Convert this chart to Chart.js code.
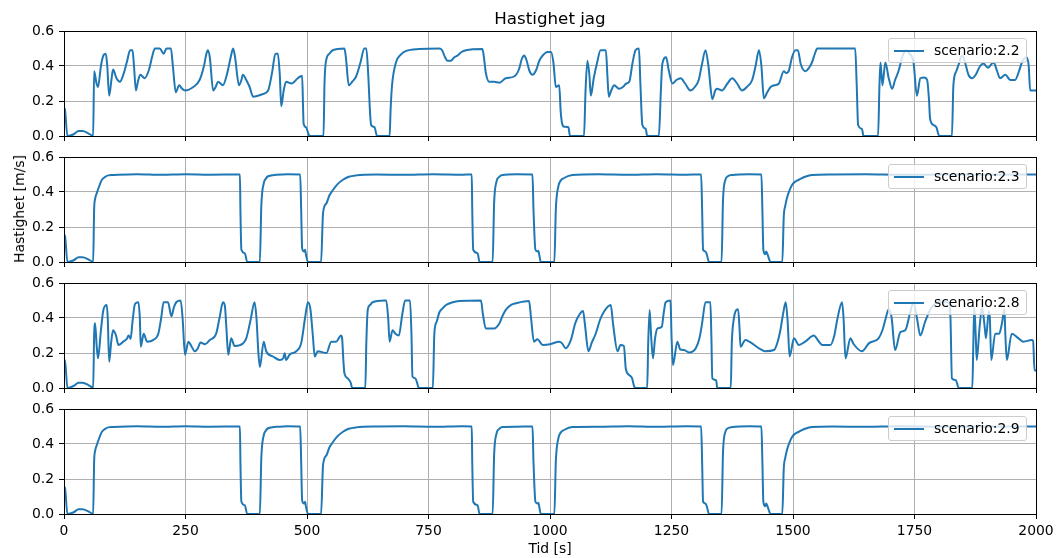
<!DOCTYPE html>
<html>
<head>
<meta charset="utf-8">
<title>Hastighet jag</title>
<script src="https://cdn.jsdelivr.net/npm/chart.js@4.4.1/dist/chart.umd.min.js"></script>
<style>
  body { margin: 0; background: #fff; }
  #fig { position: relative; width: 1057px; height: 558px; overflow: hidden; font-family: "DejaVu Sans", sans-serif; color: #000; }
  .panel { position: absolute; left: 0; }
  .txt { position: absolute; white-space: nowrap; transform: translate(-50%, -50%); }
  #title { left: 550px; top: 18px; font-size: 16.7px; }
  #ylabel { left: 19px; top: 209px; font-size: 13.9px; transform: translate(-50%, -50%) rotate(-90deg); }
  #xlabel { left: 550px; top: 548px; font-size: 13.9px; }
  .legend { position: absolute; left: 888px; width: 139px; height: 25px; box-sizing: border-box;
            border: 1px solid #cccccc; border-radius: 3px; background: rgba(255, 255, 255, 0.8); font-size: 13.9px; }
  .legend .swatch { position: absolute; left: 5px; top: 11px; width: 30px; height: 2px; background: #1f77b4; }
  .legend .name { position: absolute; left: 45px; top: 3px; line-height: 17px; }
</style>
</head>
<body>
<div id="fig">
  <div id="title" class="txt">Hastighet jag</div>
  <div id="ylabel" class="txt">Hastighet [m/s]</div>
  <div id="xlabel" class="txt">Tid [s]</div>
</div>
<script>
// scenario names, one subplot each
var scenarios = ["scenario:2.2", "scenario:2.3", "scenario:2.8", "scenario:2.9"];

// axis ticks
var xTicks = [0, 250, 500, 750, 1000, 1250, 1500, 1750, 2000];
var yTicks = [0.0, 0.2, 0.4, 0.6];

// scenario 2.2 : time [s] and speed [m/s]
var t22 = [0, 2, 7, 20, 30, 38, 50, 58, 60, 62, 67, 70, 76, 81, 86, 89, 93, 98, 101, 108, 115, 122, 130, 136, 141, 144, 148, 152, 157, 166, 175, 182, 187, 197, 205, 211, 220, 224, 230, 237, 243, 249, 266, 279, 288, 293, 296, 300, 307, 312, 317, 327, 336, 343, 348, 352, 360, 365, 368, 375, 382, 389, 399, 409, 420, 428, 435, 440, 444, 447, 452, 457, 468, 481, 490, 492, 493, 498, 502, 505,
  534, 536, 540, 546, 553, 577, 580, 586, 593, 601, 610, 618, 622, 626, 630, 632, 639, 644, 670, 672, 675, 683, 693, 704, 731, 772, 778, 784, 789, 796, 803, 810, 818, 827, 861, 864, 868, 875, 885, 896, 909, 926, 936, 942, 947, 952, 958, 964, 972, 978, 985, 995, 1002, 1007, 1012, 1019, 1022, 1025, 1029, 1038, 1041,
  1070, 1073, 1077, 1081, 1084, 1090, 1097, 1104, 1115, 1118, 1121, 1126, 1132, 1137, 1142, 1150, 1157, 1163, 1170, 1176, 1183, 1186, 1190, 1197, 1200, 1224, 1228, 1231, 1239, 1244, 1252, 1260, 1269, 1278, 1289, 1298, 1306, 1312, 1320, 1326, 1334, 1340, 1344, 1354, 1365, 1375, 1385, 1395, 1405, 1416, 1423, 1430, 1435, 1440, 1447, 1454, 1462, 1471, 1481, 1486, 1491, 1498, 1505, 1510, 1516, 1526, 1533, 1539, 1545, 1550, 1628, 1631, 1634, 1642, 1645,
  1675, 1678, 1680, 1684, 1690, 1697, 1704, 1710, 1717, 1726, 1733, 1740, 1748, 1755, 1762, 1770, 1776, 1780, 1782, 1789, 1795, 1801, 1827, 1830, 1836, 1841, 1848, 1854, 1861, 1868, 1876, 1885, 1892, 1897, 1902, 1908, 1913, 1920, 1926, 1937, 1947, 1957, 1965, 1971, 1980, 1985, 1988, 2000];
var v22 = [0.16, 0.15, 0, 0.01, 0.028, 0.028, 0.015, 0.002, 0, 0.37, 0.30, 0.28, 0.40, 0.46, 0.47, 0.40, 0.23, 0.33, 0.38, 0.33, 0.31, 0.35, 0.43, 0.49, 0.49, 0.40, 0.26, 0.31, 0.35, 0.33, 0.38, 0.46, 0.50, 0.50, 0.47, 0.50, 0.50, 0.40, 0.25, 0.29, 0.27, 0.26, 0.28, 0.32, 0.40, 0.47, 0.49, 0.45, 0.26, 0.28, 0.31, 0.29, 0.36, 0.45, 0.50, 0.45, 0.29, 0.32, 0.35, 0.32, 0.28, 0.225, 0.23, 0.24, 0.26, 0.36, 0.47, 0.47, 0.35, 0.17, 0.26, 0.31, 0.30, 0.33, 0.345, 0.15, 0.07, 0.05, 0.02, 0,
  0, 0.30, 0.44, 0.47, 0.49, 0.50, 0.45, 0.29, 0.31, 0.34, 0.42, 0.50, 0.50, 0.35, 0.12, 0.063, 0.05, 0, 0, 0.15, 0.29, 0.42, 0.465, 0.486, 0.497, 0.50, 0.49, 0.45, 0.43, 0.43, 0.45, 0.46, 0.48, 0.49, 0.497, 0.45, 0.36, 0.31, 0.31, 0.305, 0.33, 0.34, 0.38, 0.44, 0.46, 0.43, 0.37, 0.35, 0.38, 0.43, 0.46, 0.48, 0.48, 0.42, 0.28, 0.29, 0.14, 0.07, 0.053, 0.05, 0,
  0, 0.25, 0.43, 0.35, 0.23, 0.33, 0.42, 0.49, 0.49, 0.35, 0.225, 0.26, 0.29, 0.28, 0.27, 0.28, 0.30, 0.31, 0.42, 0.49, 0.50, 0.30, 0.063, 0.04, 0, 0, 0.25, 0.41, 0.45, 0.38, 0.30, 0.32, 0.33, 0.30, 0.26, 0.28, 0.32, 0.40, 0.49, 0.40, 0.21, 0.26, 0.27, 0.26, 0.30, 0.33, 0.30, 0.26, 0.28, 0.32, 0.40, 0.49, 0.40, 0.215, 0.25, 0.28, 0.29, 0.30, 0.37, 0.36, 0.37, 0.45, 0.49, 0.49, 0.41, 0.37, 0.39, 0.42, 0.47, 0.50, 0.50, 0.30, 0.063, 0.04, 0,
  0, 0.30, 0.42, 0.29, 0.42, 0.33, 0.27, 0.32, 0.37, 0.46, 0.49, 0.47, 0.42, 0.23, 0.33, 0.335, 0.32, 0.20, 0.10, 0.063, 0.05, 0, 0, 0.29, 0.37, 0.41, 0.46, 0.42, 0.35, 0.33, 0.35, 0.40, 0.415, 0.40, 0.39, 0.41, 0.42, 0.37, 0.33, 0.35, 0.32, 0.32, 0.37, 0.42, 0.45, 0.40, 0.26, 0.26];

// scenario 2.3
var t23 = [0, 2, 7, 20, 30, 38, 50, 58, 60, 62, 64, 67, 72, 77, 84, 91, 100, 150, 200, 250, 300, 362, 363, 365, 372, 377, 403, 406, 411, 415, 420, 437, 460, 486, 488, 490, 494, 496, 498, 502,
  529, 533, 540, 546, 553, 563, 574, 586, 601, 642, 700, 760, 820, 839, 840, 842, 851, 855, 882, 885, 890, 895, 902, 930, 964, 966, 970, 974, 976, 978, 981,
  1009, 1012, 1017, 1022, 1029, 1046, 1100, 1160, 1220, 1280, 1311, 1313, 1315, 1320, 1323, 1327, 1353, 1356, 1361, 1366, 1375, 1410, 1435, 1437, 1439, 1443, 1445, 1448, 1454,
  1478, 1481, 1484, 1488, 1493, 1498, 1505, 1512, 1525, 1539, 1580, 1650, 1720, 1800, 1900, 2000];
var v23 = [0.155, 0.15, 0, 0.01, 0.027, 0.027, 0.015, 0.002, 0, 0.30, 0.36, 0.39, 0.43, 0.465, 0.485, 0.495, 0.497, 0.502, 0.498, 0.501, 0.499, 0.50, 0.30, 0.07, 0.05, 0, 0, 0.32, 0.45, 0.475, 0.49, 0.498, 0.501, 0.50, 0.30, 0.078, 0.06, 0.07, 0.04, 0,
  0, 0.28, 0.335, 0.38, 0.41, 0.445, 0.47, 0.487, 0.495, 0.50, 0.498, 0.502, 0.499, 0.50, 0.30, 0.07, 0.05, 0, 0, 0.335, 0.46, 0.485, 0.497, 0.501, 0.50, 0.30, 0.07, 0.06, 0.065, 0.04, 0,
  0, 0.30, 0.43, 0.465, 0.48, 0.497, 0.501, 0.498, 0.502, 0.499, 0.50, 0.30, 0.07, 0.06, 0.04, 0, 0, 0.354, 0.47, 0.49, 0.497, 0.501, 0.50, 0.30, 0.07, 0.045, 0.06, 0.04, 0,
  0, 0.26, 0.32, 0.37, 0.41, 0.44, 0.46, 0.47, 0.487, 0.497, 0.50, 0.501, 0.498, 0.50, 0.499, 0.50];

// scenario 2.8
var t28 = [0, 2, 7, 20, 30, 38, 50, 58, 60, 62, 64, 67, 70, 76, 81, 88, 90, 93, 97, 101, 104, 107, 112, 122, 129, 133, 137, 141, 146, 153, 156, 158, 164, 171, 184, 194, 200, 205, 214, 221, 226, 231, 240, 244, 249, 256, 262, 269, 275, 281, 290, 300, 313, 320, 327, 331, 334, 338, 344, 351, 362, 375, 384, 392, 396, 400, 403, 411, 416, 430, 444, 451, 454, 457, 464, 478, 488, 496, 502, 507, 512, 516, 522, 540, 550, 560, 570, 572, 575, 577, 584, 590, 593,
  620, 622, 625, 630, 635, 659, 663, 667, 670, 676, 682, 689, 696, 702, 712, 715, 717, 723, 726, 730, 759, 762, 767, 772, 779, 786, 800, 813, 858, 862, 868, 885, 896, 902, 909, 920, 930, 957, 961, 967, 974, 985, 1000, 1019, 1025, 1032, 1043, 1052, 1060, 1068, 1072, 1079, 1086, 1094, 1103, 1111, 1125, 1130, 1139, 1145, 1152, 1156, 1163, 1169, 1172, 1175,
  1200, 1202, 1205, 1208, 1212, 1216, 1221, 1230, 1234, 1238, 1248, 1250, 1253, 1262, 1268, 1276, 1286, 1300, 1308, 1313, 1320, 1330, 1332, 1334, 1342, 1344, 1372, 1374, 1378, 1387, 1390, 1392, 1402, 1410, 1430, 1443, 1461, 1468, 1474, 1480, 1485, 1489, 1493, 1502, 1512, 1525, 1543, 1552, 1560, 1577, 1585, 1591, 1601, 1604, 1608, 1618, 1625, 1642, 1656, 1676, 1684, 1690, 1697, 1703, 1710, 1721, 1731, 1741, 1748, 1755, 1762, 1772, 1785, 1800, 1820, 1824, 1827, 1835, 1841,
  1869, 1871, 1873, 1876, 1878, 1884, 1889, 1894, 1897, 1903, 1905, 1908, 1916, 1924, 1930, 1935, 1937, 1940, 1950, 1964, 1974, 1991, 1994, 1997, 2000];
var v28 = [0.16, 0.16, 0, 0.012, 0.03, 0.03, 0.017, 0.003, 0, 0.30, 0.37, 0.25, 0.17, 0.33, 0.446, 0.474, 0.40, 0.15, 0.26, 0.33, 0.32, 0.30, 0.246, 0.265, 0.28, 0.30, 0.28, 0.38, 0.48, 0.49, 0.40, 0.236, 0.31, 0.265, 0.275, 0.31, 0.40, 0.49, 0.49, 0.41, 0.46, 0.49, 0.50, 0.40, 0.19, 0.265, 0.24, 0.21, 0.225, 0.26, 0.25, 0.274, 0.31, 0.40, 0.49, 0.47, 0.35, 0.19, 0.284, 0.24, 0.245, 0.284, 0.39, 0.49, 0.40, 0.20, 0.12, 0.265, 0.21, 0.18, 0.16, 0.17, 0.198, 0.16, 0.19, 0.21, 0.255, 0.40, 0.49, 0.45, 0.30, 0.18, 0.21, 0.20, 0.265, 0.265, 0.30, 0.29, 0.15, 0.084, 0.055, 0.03, 0,
  0, 0.25, 0.446, 0.475, 0.49, 0.50, 0.50, 0.40, 0.265, 0.33, 0.31, 0.30, 0.42, 0.50, 0.50, 0.30, 0.065, 0.055, 0.035, 0, 0, 0.31, 0.38, 0.43, 0.455, 0.474, 0.49, 0.497, 0.50, 0.42, 0.34, 0.34, 0.37, 0.41, 0.446, 0.475, 0.484, 0.497, 0.40, 0.265, 0.278, 0.246, 0.25, 0.265, 0.255, 0.227, 0.275, 0.37, 0.417, 0.44, 0.36, 0.21, 0.26, 0.31, 0.39, 0.436, 0.474, 0.36, 0.21, 0.246, 0.24, 0.11, 0.074, 0.055, 0.02, 0,
  0, 0.25, 0.446, 0.30, 0.17, 0.28, 0.34, 0.35, 0.43, 0.49, 0.50, 0.30, 0.13, 0.265, 0.22, 0.217, 0.203, 0.227, 0.29, 0.37, 0.49, 0.49, 0.30, 0.055, 0.045, 0, 0, 0.25, 0.39, 0.45, 0.34, 0.236, 0.274, 0.265, 0.227, 0.21, 0.217, 0.26, 0.33, 0.43, 0.49, 0.38, 0.18, 0.284, 0.246, 0.265, 0.30, 0.27, 0.246, 0.246, 0.30, 0.39, 0.49, 0.40, 0.17, 0.284, 0.25, 0.21, 0.255, 0.284, 0.33, 0.39, 0.45, 0.40, 0.217, 0.32, 0.33, 0.43, 0.49, 0.40, 0.30, 0.38, 0.46, 0.49, 0.49, 0.40, 0.055, 0.045, 0,
  0, 0.25, 0.46, 0.30, 0.16, 0.35, 0.46, 0.36, 0.284, 0.44, 0.40, 0.16, 0.31, 0.31, 0.37, 0.45, 0.30, 0.16, 0.31, 0.284, 0.265, 0.274, 0.27, 0.10, 0.10];

// scenario 2.9
var t29 = [0, 2, 7, 20, 30, 38, 50, 58, 60, 62, 64, 67, 72, 77, 84, 91, 100, 150, 200, 250, 300, 362, 363, 365, 372, 377, 403, 406, 411, 415, 420, 437, 460, 486, 488, 490, 494, 496, 498, 502,
  529, 533, 540, 546, 553, 563, 574, 586, 601, 642, 700, 760, 820, 839, 840, 842, 851, 855, 882, 885, 890, 895, 902, 930, 964, 966, 970, 974, 976, 978, 981,
  1009, 1012, 1017, 1022, 1029, 1046, 1100, 1160, 1220, 1280, 1311, 1313, 1315, 1320, 1323, 1327, 1353, 1356, 1361, 1366, 1375, 1410, 1435, 1437, 1439, 1443, 1445, 1448, 1454,
  1478, 1481, 1484, 1488, 1493, 1498, 1505, 1512, 1525, 1539, 1580, 1650, 1720, 1800, 1900, 2000];
var v29 = [0.155, 0.15, 0, 0.01, 0.027, 0.027, 0.015, 0.002, 0, 0.30, 0.36, 0.39, 0.43, 0.465, 0.485, 0.495, 0.497, 0.501, 0.498, 0.502, 0.499, 0.50, 0.30, 0.07, 0.05, 0, 0, 0.32, 0.45, 0.475, 0.49, 0.498, 0.502, 0.50, 0.30, 0.078, 0.06, 0.07, 0.04, 0,
  0, 0.28, 0.335, 0.38, 0.41, 0.445, 0.47, 0.487, 0.495, 0.50, 0.501, 0.498, 0.502, 0.50, 0.30, 0.07, 0.05, 0, 0, 0.335, 0.46, 0.485, 0.497, 0.499, 0.50, 0.30, 0.07, 0.06, 0.065, 0.04, 0,
  0, 0.30, 0.43, 0.465, 0.48, 0.497, 0.499, 0.502, 0.498, 0.501, 0.50, 0.30, 0.07, 0.06, 0.04, 0, 0, 0.354, 0.47, 0.49, 0.497, 0.502, 0.50, 0.30, 0.07, 0.045, 0.06, 0.04, 0,
  0, 0.26, 0.32, 0.37, 0.41, 0.44, 0.46, 0.47, 0.487, 0.497, 0.50, 0.498, 0.501, 0.499, 0.50, 0.50];

var times = [t22, t23, t28, t29];
var speeds = [v22, v23, v28, v29];

// layout of the four stacked axes (page pixels)
var AREA_TOP = 31, AREA_H = 105, AREA_STEP = 126, PAD_TOP = 10;
var blue = '#1f77b4';
var tickFont = { family: 'DejaVu Sans', size: 13.9 };

// black box around each plot area, drawn over the curve
var frame = {
    id: 'frame',
    afterDatasetsDraw: function(chart) {
        var a = chart.chartArea, ctx = chart.ctx;
        ctx.save();
        ctx.strokeStyle = '#000';
        ctx.lineWidth = 1;
        ctx.strokeRect(Math.round(a.left) + 0.5, Math.round(a.top) + 0.5,
                       Math.round(a.right - a.left), Math.round(a.bottom - a.top));
        ctx.restore();
    }
};

// keep tick labels from shrinking the plot area
function noOverflow(s) {
    s.paddingTop = 0;
    s.paddingBottom = 0;
    s.paddingLeft = 0;
    s.paddingRight = 0;
}

function drawPanel(i) {
    var fig = document.getElementById('fig');
    var last = (i == scenarios.length - 1);
    var xAxisH = last ? 36 : 11;
    var h = PAD_TOP + AREA_H + xAxisH;
    var areaTop = AREA_TOP + AREA_STEP * i;

    var box = document.createElement('div');
    box.className = 'panel';
    box.style.top = (areaTop - PAD_TOP) + 'px';
    var canvas = document.createElement('canvas');
    canvas.width = 1057;
    canvas.height = h;
    box.appendChild(canvas);
    fig.insertBefore(box, fig.firstChild);

    var points = [];
    for (var k = 0; k < times[i].length; k++) {
        points.push({ x: times[i][k], y: speeds[i][k] });
    }

    new Chart(canvas, {
        type: 'line',
        data: {
            datasets: [{
                label: scenarios[i],
                data: points,
                borderColor: blue,
                borderWidth: 2,
                borderJoinStyle: 'round',
                cubicInterpolationMode: 'monotone',
                pointRadius: 0,
                fill: false,
                clip: 0
            }]
        },
        options: {
            responsive: false,
            animation: false,
            devicePixelRatio: 1,
            events: [],
            layout: { padding: { top: PAD_TOP, right: 21, left: 0, bottom: 0 } },
            plugins: { legend: { display: false }, tooltip: { enabled: false } },
            scales: {
                x: {
                    type: 'linear', min: xTicks[0], max: xTicks[xTicks.length - 1],
                    afterBuildTicks: function(s) { s.ticks = xTicks.map(function(v) { return { value: v }; }); },
                    ticks: { display: last, font: tickFont, color: '#000', padding: 4, maxRotation: 0, autoSkip: false,
                             callback: function(v) { return String(v); } },
                    grid: { color: '#b0b0b0', lineWidth: 1, tickColor: '#000', tickLength: 5 },
                    border: { display: false },
                    afterFit: function(s) { s.height = xAxisH; noOverflow(s); }
                },
                y: {
                    min: yTicks[0], max: yTicks[yTicks.length - 1],
                    afterBuildTicks: function(s) { s.ticks = yTicks.map(function(v) { return { value: v }; }); },
                    ticks: { font: tickFont, color: '#000', padding: 5, callback: function(v) { return v.toFixed(1); } },
                    grid: { color: '#b0b0b0', lineWidth: 1, tickColor: '#000', tickLength: 5 },
                    border: { display: false },
                    afterFit: function(s) { s.width = 64; noOverflow(s); }
                }
            }
        },
        plugins: [frame]
    });

    // legend box in the upper right corner
    var leg = document.createElement('div');
    leg.className = 'legend';
    leg.style.top = (areaTop + 7) + 'px';
    leg.innerHTML = '<div class="swatch"></div><div class="name">' + scenarios[i] + '</div>';
    fig.appendChild(leg);
}

for (var i = 0; i < scenarios.length; i++) {
    drawPanel(i);
}
</script>
</body>
</html>
